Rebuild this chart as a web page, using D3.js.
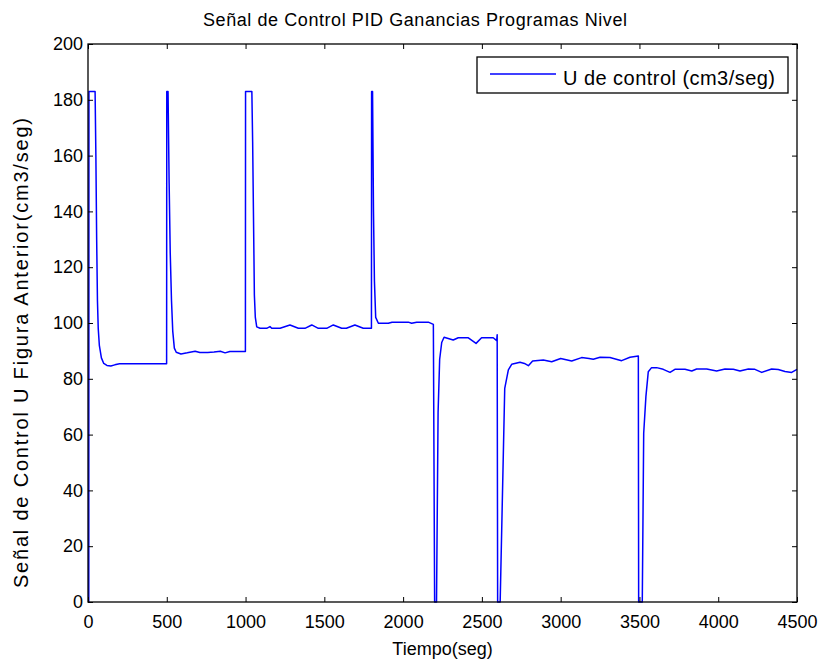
<!DOCTYPE html>
<html>
<head>
<meta charset="utf-8">
<script src="https://cdn.jsdelivr.net/npm/d3@7"></script>
<style>
  html, body { margin: 0; padding: 0; background: #fff; }
  svg text { font-family: "Liberation Sans", Arial, Helvetica, sans-serif; fill: #000; }
</style>
</head>
<body>
<svg id="chart" width="823" height="660"></svg>
<script>
// ---- data ----
const chartTitle = "Señal de Control PID Ganancias Programas Nivel";
const xLabel = "Tiempo(seg)";
const yLabel = "Señal de Control U Figura Anterior(cm3/seg)";
const seriesName = "U de control (cm3/seg)";

const time = [
  5, 6, 45, 50, 55, 60, 65, 72, 85, 100, 120, 145, 170, 200, 300, 400, 499,
  500, 508, 515, 522, 530, 538, 548, 560, 590, 630, 680, 710, 760, 800, 840, 870, 900, 999,
  1000, 1040, 1045, 1050, 1056, 1062, 1071, 1092, 1134, 1155, 1166, 1219, 1282, 1335, 1377,
  1420, 1462, 1515, 1557, 1610, 1640, 1694, 1747, 1799,
  1800, 1806, 1812, 1818, 1826, 1843, 1906, 1930, 2033, 2054, 2086, 2160, 2192,
  2200, 2212, 2222, 2232, 2245, 2260, 2318, 2350, 2414, 2463, 2498, 2572, 2594, 2597,
  2600, 2616, 2645, 2668, 2689, 2742, 2770, 2795, 2822, 2890, 2943, 3000, 3070, 3133, 3180,
  3207, 3250, 3313, 3387, 3440, 3493,
  3495, 3518, 3527, 3541, 3556, 3577, 3609, 3651, 3694, 3725, 3789, 3832, 3863, 3927, 3990,
  4043, 4096, 4138, 4191, 4233, 4276, 4339, 4381, 4424, 4466, 4500
];
const uControl = [
  0, 183, 183, 160, 130, 108, 98, 92, 87.5, 85.5, 84.8, 84.6, 85, 85.4, 85.4, 85.4, 85.4,
  183, 183, 150, 125, 108, 97, 91, 89.5, 88.9, 89.3, 89.9, 89.4, 89.4, 89.6, 89.9, 89.3, 89.8, 89.8,
  183, 183, 165, 140, 110, 102, 98.6, 98.1, 98.1, 98.7, 98.1, 98.1, 99.3, 98.1, 98.1,
  99.3, 98.1, 98.1, 99.3, 98.1, 98.1, 99.3, 98.1, 98.1,
  183, 183, 140, 115, 102, 99.9, 99.9, 100.3, 100.3, 99.9, 100.3, 100.3, 99.5,
  0, 0, 68, 87, 93, 94.9, 93.9, 94.7, 94.7, 92.7, 94.7, 94.7, 93.7, 95.8,
  0, 0, 76.6, 83.2, 85.2, 85.9, 85.5, 84.7, 86.4, 86.7, 86.1, 87.3, 86.4, 87.6, 87.3,
  87.0, 87.7, 87.6, 86.5, 87.7, 88.2,
  0, 0, 60.5, 73.6, 82.5, 84.0, 84.0, 83.4, 82.3, 83.4, 83.4, 82.8, 83.5, 83.5, 82.8,
  83.5, 83.4, 82.8, 83.5, 83.4, 82.3, 83.5, 83.3, 82.6, 82.3, 83.4
];
const xTicks = [0, 500, 1000, 1500, 2000, 2500, 3000, 3500, 4000, 4500];
const yTicks = [0, 20, 40, 60, 80, 100, 120, 140, 160, 180, 200];

// ---- layout ----
const svg = d3.select("#chart");
const L = 88, R = 797, T = 44, B = 602;
const x = d3.scaleLinear().domain([0, 4500]).range([L, R]);
const y = d3.scaleLinear().domain([0, 200]).range([B, T]);
const fs = 18;

// data line
const pts = time.map((t, i) => [t, uControl[i]]);
svg.append("path")
  .datum(pts)
  .attr("fill", "none")
  .attr("stroke", "#0000ff")
  .attr("stroke-width", 1.5)
  .attr("stroke-linejoin", "round")
  .attr("d", d3.line().x(d => x(d[0])).y(d => y(d[1])));

// axes
function styleAxis(g, showLabels) {
  g.select(".domain").remove();
  g.selectAll(".tick line").attr("stroke", "#000").attr("stroke-width", 1);
  g.selectAll(".tick text").style("font-size", fs + "px").style("font-family", '"Liberation Sans", Arial, sans-serif');
  if (!showLabels) g.selectAll(".tick text").remove();
}
svg.append("g").attr("transform", `translate(0,${B})`)
  .call(d3.axisBottom(x).tickValues(xTicks).tickSize(-5).tickPadding(13).tickFormat(d3.format("d")))
  .call(g => styleAxis(g, true));
svg.append("g").attr("transform", `translate(0,${T})`)
  .call(d3.axisTop(x).tickValues(xTicks).tickSize(-5))
  .call(g => styleAxis(g, false));
svg.append("g").attr("transform", `translate(${L},0)`)
  .call(d3.axisLeft(y).tickValues(yTicks).tickSize(-5).tickPadding(5).tickFormat(d3.format("d")))
  .call(g => styleAxis(g, true));
svg.append("g").attr("transform", `translate(${R},0)`)
  .call(d3.axisRight(y).tickValues(yTicks).tickSize(-5))
  .call(g => styleAxis(g, false));

svg.append("rect")
  .attr("x", L).attr("y", T).attr("width", R - L).attr("height", B - T)
  .attr("fill", "none").attr("stroke", "#000").attr("stroke-width", 1.3);

// title and labels
svg.append("text").attr("x", 203).attr("y", 26)
  .attr("textLength", 424).attr("lengthAdjust", "spacing")
  .style("font-size", "18px").text(chartTitle);
svg.append("text").attr("x", (L + R) / 2).attr("y", 655)
  .attr("text-anchor", "middle").style("font-size", fs + "px").text(xLabel);
svg.append("text")
  .attr("transform", `translate(28,588) rotate(-90)`)
  .attr("textLength", 470).attr("lengthAdjust", "spacing")
  .style("font-size", "20px").text(yLabel);

// legend
const lg = svg.append("g");
lg.append("rect").attr("x", 477).attr("y", 57).attr("width", 311).attr("height", 36)
  .attr("fill", "#fff").attr("stroke", "#000").attr("stroke-width", 1.3);
lg.append("line").attr("x1", 490).attr("x2", 556).attr("y1", 74).attr("y2", 74)
  .attr("stroke", "#0000ff").attr("stroke-width", 1.4);
lg.append("text").attr("x", 563).attr("y", 85)
  .attr("textLength", 212).attr("lengthAdjust", "spacing")
  .style("font-size", "20px").text(seriesName);
</script>
</body>
</html>
